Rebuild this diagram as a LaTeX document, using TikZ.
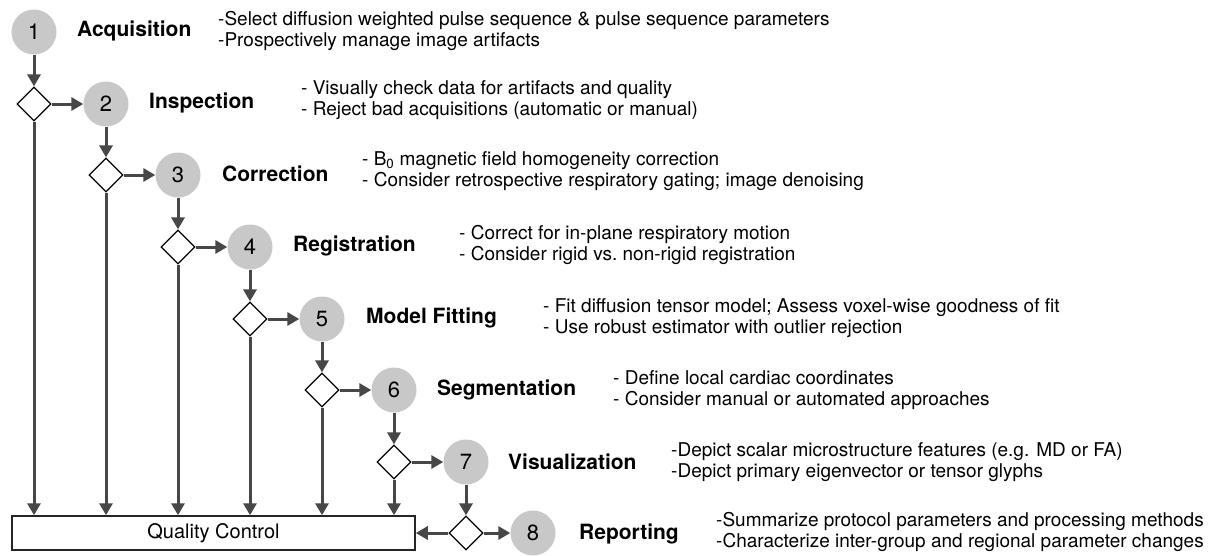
\documentclass[tikz,border=0pt]{standalone}
\usepackage{fontspec}
\setmainfont{TeX Gyre Heros}
\usetikzlibrary{shapes.geometric,arrows.meta}

\definecolor{stepgray}{HTML}{C8C8C8}
\definecolor{flowgray}{HTML}{474747}

\tikzset{
  num/.style={circle, fill=stepgray, minimum size=45pt, inner sep=0pt, font=\fontsize{22}{24}\selectfont},
  gate/.style={diamond, draw=black, fill=white, line width=1.2pt, minimum size=34pt, inner sep=0pt},
  steptitle/.style={anchor=west, inner sep=0pt, font=\fontsize{21}{23}\selectfont\bfseries},
  stepnotes/.style={anchor=west, inner sep=0pt, align=left, font=\fontsize{19}{21.5}\selectfont},
  flow/.style={draw=flowgray, line width=3pt, -{Triangle[length=12pt,width=13pt]}},
}

\begin{document}
\begin{tikzpicture}[x=1pt, y=-1pt]
\useasboundingbox (0,0) rectangle (1216,555);

\node[num] (c1) at (34,32) {1};
\node[num] (c2) at (106,104) {2};
\node[num] (c3) at (178,175) {3};
\node[num] (c4) at (250,247) {4};
\node[num] (c5) at (322,319) {5};
\node[num] (c6) at (394,390) {6};
\node[num] (c7) at (466,462) {7};
\node[num] (c8) at (533,533) {8};

\node[gate] (d1) at (34,104) {};
\node[gate] (d2) at (106,175) {};
\node[gate] (d3) at (178,247) {};
\node[gate] (d4) at (250,319) {};
\node[gate] (d5) at (322,390) {};
\node[gate] (d6) at (394,462) {};
\node[gate] (d7) at (466,533) {};

\node[draw=black!85, line width=1.5pt, minimum width=403pt, minimum height=34pt,
      font=\fontsize{20}{22}\selectfont] (qc) at (213.5,533) {Quality Control};

\node[steptitle] (t1) at (77,31) {Acquisition};
\node[steptitle] (t2) at (149,103) {Inspection};
\node[steptitle] (t3) at (222,174) {Correction};
\node[steptitle] (t4) at (293,246) {Registration};
\node[steptitle] (t5) at (366,318) {Model Fitting};
\node[steptitle] (t6) at (437,390) {Segmentation};
\node[steptitle] (t7) at (508,462) {Visualization};
\node[steptitle] (t8) at (579,534) {Reporting};

\node[stepnotes] (n1) at (218,31) {-Select diffusion weighted pulse sequence \& pulse sequence parameters\\-Prospectively manage image artifacts};
\node[stepnotes] (n2) at (301,100) {- Visually check data for artifacts and quality\\- Reject bad acquisitions (automatic or manual)};
\node[stepnotes] (n3) at (362,171) {- B\textsubscript{0} magnetic field homogeneity correction\\- Consider retrospective respiratory gating; image denoising};
\node[stepnotes] (n4) at (459,245) {- Correct for in-plane respiratory motion\\- Consider rigid vs.\ non-rigid registration};
\node[stepnotes] (n5) at (543,318) {- Fit diffusion tensor model; Assess voxel-wise goodness of fit\\- Use robust estimator with outlier rejection};
\node[stepnotes] (n6) at (613,390) {- Define local cardiac coordinates\\- Consider manual or automated approaches};
\node[stepnotes] (n7) at (671,462) {-Depict scalar microstructure features (e.g. MD or FA)\\-Depict primary eigenvector or tensor glyphs};
\node[stepnotes] (n8) at (716,532) {-Summarize protocol parameters and processing methods\\-Characterize inter-group and regional parameter changes};

% steps down the diagonal
\draw[flow] (c1) -- (d1);
\draw[flow] (d1) -- (c2);
\draw[flow] (c2) -- (d2);
\draw[flow] (d2) -- (c3);
\draw[flow] (c3) -- (d3);
\draw[flow] (d3) -- (c4);
\draw[flow] (c4) -- (d4);
\draw[flow] (d4) -- (c5);
\draw[flow] (c5) -- (d5);
\draw[flow] (d5) -- (c6);
\draw[flow] (c6) -- (d6);
\draw[flow] (d6) -- (c7);
\draw[flow] (c7) -- (d7);
\draw[flow] (d7) -- (c8);

% into quality control
\draw[flow] (d1) -- (d1 |- qc.north);
\draw[flow] (d2) -- (d2 |- qc.north);
\draw[flow] (d3) -- (d3 |- qc.north);
\draw[flow] (d4) -- (d4 |- qc.north);
\draw[flow] (d5) -- (d5 |- qc.north);
\draw[flow] (d6) -- (d6 |- qc.north);
\draw[flow] (d7) -- (d7 -| qc.east);
\end{tikzpicture}
\end{document}
